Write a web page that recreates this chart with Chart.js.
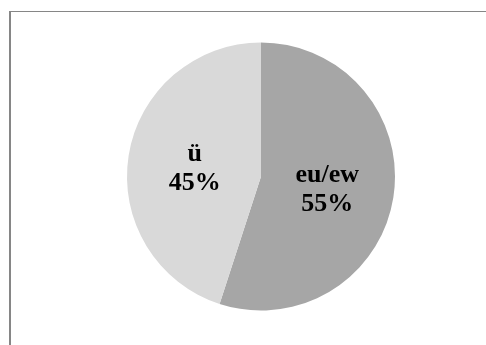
<!DOCTYPE html>
<html>
<head>
<meta charset="utf-8">
<script src="https://cdn.jsdelivr.net/npm/chart.js@4/dist/chart.umd.min.js"></script>
<style>
    html, body {
        margin: 0;
        padding: 0;
        background: #ffffff;
        overflow: hidden;
    }
    .frame {
        position: absolute;
        left: 9px;
        top: 11px;
        width: 600px;
        height: 500px;
        border-top: 1px solid #868686;
        border-left: 2px solid #868686;
    }
    .chart-box {
        position: absolute;
        left: 0;
        top: 0;
        width: 486px;
        height: 345px;
    }
</style>
</head>
<body>
<div class="frame"></div>
<div class="chart-box"><canvas id="pieChart"></canvas></div>
<script>
const categories = ['eu/ew', 'ü'];
const shares = [55, 45];
const sliceColors = ['#a6a6a6', '#d9d9d9'];

// Category name and percentage stacked inside each slice
const sliceLabels = {
    id: 'sliceLabels',
    afterDatasetsDraw(chart) {
        const ctx = chart.ctx;
        const meta = chart.getDatasetMeta(0);
        ctx.save();
        ctx.fillStyle = '#000000';
        ctx.font = 'bold 26px "Liberation Serif", "Times New Roman", serif';
        ctx.textAlign = 'center';
        ctx.textBaseline = 'middle';
        meta.data.forEach(function(arc, i) {
            const pos = arc.tooltipPosition();
            ctx.fillText(categories[i], pos.x, pos.y - 12);
            ctx.fillText(shares[i] + '%', pos.x, pos.y + 17);
        });
        ctx.restore();
    }
};

document.addEventListener('DOMContentLoaded', function() {
    const ctx = document.getElementById('pieChart').getContext('2d');
    new Chart(ctx, {
        type: 'pie',
        data: {
            labels: categories,
            datasets: [{
                data: shares,
                backgroundColor: sliceColors,
                borderWidth: 0,
                hoverOffset: 0
            }]
        },
        options: {
            responsive: true,
            maintainAspectRatio: false,
            animation: false,
            events: [],
            layout: {
                padding: { left: 127, right: 91, top: 42, bottom: 34 }
            },
            plugins: {
                legend: { display: false },
                tooltip: { enabled: false }
            }
        },
        plugins: [sliceLabels]
    });
});
</script>
</body>
</html>
